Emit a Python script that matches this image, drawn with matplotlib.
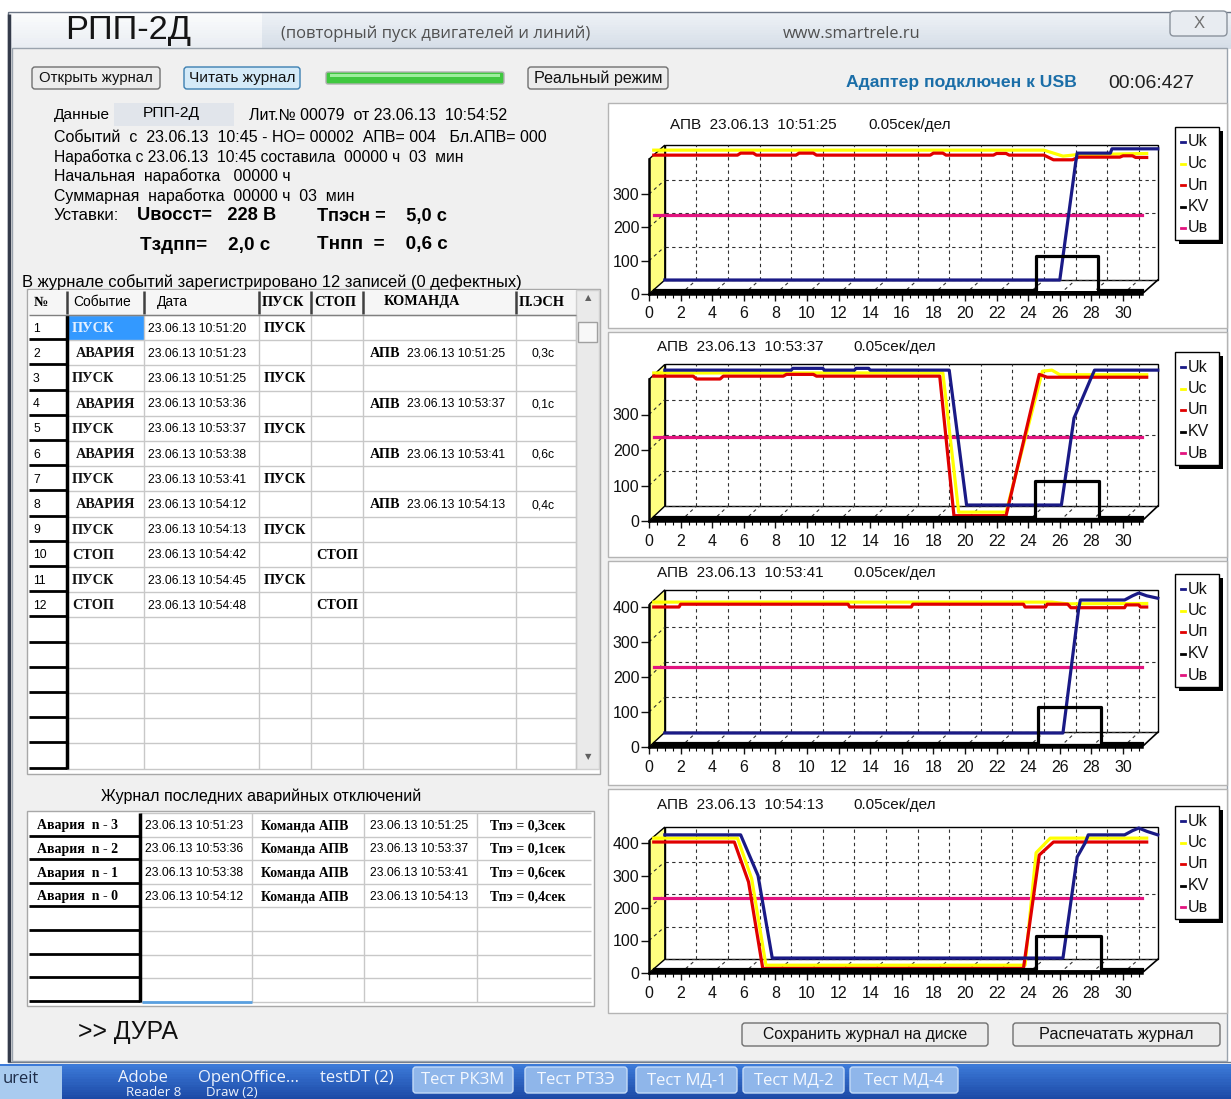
import numpy as np
import matplotlib
matplotlib.use("Agg")
import matplotlib.pyplot as plt
from matplotlib import font_manager as fm
from matplotlib.colors import to_rgb
from matplotlib.patches import Rectangle, Polygon, FancyBboxPatch
from matplotlib.ticker import FixedLocator

W, H = 1231, 1099

# ---------------------------------------------------------------------------
# data read from the screen
# ---------------------------------------------------------------------------
EVENTS = ["ПУСК", "АВАРИЯ", "ПУСК", "АВАРИЯ", "ПУСК", "АВАРИЯ",
          "ПУСК", "АВАРИЯ", "ПУСК", "СТОП", "ПУСК", "СТОП"]
EVENT_DATES = ["23.06.13 10:51:20", "23.06.13 10:51:23", "23.06.13 10:51:25",
               "23.06.13 10:53:36", "23.06.13 10:53:37", "23.06.13 10:53:38",
               "23.06.13 10:53:41", "23.06.13 10:54:12", "23.06.13 10:54:13",
               "23.06.13 10:54:42", "23.06.13 10:54:45", "23.06.13 10:54:48"]
APV_DATES = ["23.06.13 10:51:25", "23.06.13 10:53:37",
             "23.06.13 10:53:41", "23.06.13 10:54:13"]
PESN = ["0,3с", "0,1с", "0,6с", "0,4с"]
TPE = ["0,3сек", "0,1сек", "0,6сек", "0,4сек"]
ALARM_NAMES = ["Авария  n - 3", "Авария  n - 2", "Авария  n - 1", "Авария  n - 0"]

CHART_STAMPS = ["23.06.13  10:51:25", "23.06.13  10:53:37",
                "23.06.13  10:53:41", "23.06.13  10:54:13"]
SERIES_NAMES = ["Uk", "Uc", "Uп", "KV", "Uв"]

# chart 1
C1_UK_T = [1.0, 26.0, 27.0, 27.1, 29.2, 29.3, 32.2]
C1_UK_V = [42, 42, 393, 423, 423, 436, 436]
C1_UC_T = [0.3, 25.0, 26.2, 27.0, 31.5]
C1_UC_V = [432, 432, 414, 418, 422]
C1_UN_T = [0.3, 5.6, 5.8, 6.6, 6.8, 9.3, 9.5, 10.4, 10.6, 17.8, 18.0, 18.6, 18.8,
           21.8, 22.0, 22.6, 22.8, 25.0, 25.6, 26.8, 27.2, 29.8, 30.0, 30.6, 30.8, 31.5]
C1_UN_V = [417, 417, 423, 423, 417, 417, 423, 423, 417, 417, 423, 423, 417,
           417, 422, 422, 417, 417, 403, 403, 411, 411, 415, 415, 410, 410]
C1_KV_T = [0.3, 24.5, 24.5, 28.4, 28.4, 31.2]
C1_KV_V = [12, 12, 114, 114, 12, 12]
C1_UB_T = [0.3, 31.2]
C1_UB_V = [236, 236]

# chart 2
C2_UK_T = [1.0, 9.0, 9.1, 11.0, 11.1, 13.0, 13.1, 13.9, 14.0, 19.0, 20.1, 26.1,
           26.9, 28.0, 28.2, 32.2]
C2_UK_V = [425, 425, 430, 430, 425, 425, 430, 430, 425, 425, 45, 45,
           290, 405, 425, 425]
C2_UC_T = [0.3, 18.6, 19.6, 22.6, 24.9, 25.5, 26.0, 31.5]
C2_UC_V = [417, 417, 25, 25, 422, 425, 412, 412]
C2_UN_T = [0.3, 2.8, 3.0, 4.5, 4.7, 8.5, 8.7, 10.4, 10.6, 18.4, 19.3, 22.6,
           24.7, 25.2, 31.5]
C2_UN_V = [408, 408, 400, 400, 408, 408, 413, 413, 408, 408, 15, 15,
           413, 405, 405]
C2_KV_T = [0.3, 24.4, 24.4, 28.5, 28.5, 31.2]
C2_KV_V = [12, 12, 114, 114, 12, 12]
C2_UB_T = [0.3, 31.2]
C2_UB_V = [236, 236]

# chart 3
C3_UK_T = [1.0, 26.2, 27.2, 27.3, 30.1, 30.6, 31.0, 31.5, 32.2]
C3_UK_V = [40, 40, 397, 420, 420, 432, 440, 432, 425]
C3_UC_T = [0.3, 25.5, 26.5, 31.5]
C3_UC_V = [414, 414, 409, 410]
C3_UN_T = [0.3, 1.9, 2.0, 12.6, 12.7, 16.6, 16.7, 23.7, 23.8, 25.1, 25.2, 26.5,
           26.7, 30.1, 30.2, 31.0, 31.1, 31.5]
C3_UN_V = [400, 400, 408, 408, 400, 400, 408, 408, 400, 400, 408, 408,
           398, 398, 406, 406, 400, 400]
C3_KV_T = [0.3, 24.6, 24.6, 28.6, 28.6, 31.2]
C3_KV_V = [12, 12, 114, 114, 12, 12]
C3_UB_T = [0.3, 31.2]
C3_UB_V = [229, 229]

# chart 4
C4_UK_T = [1.0, 5.8, 6.9, 7.8, 26.2, 27.1, 27.6, 27.8, 30.1, 30.6, 31.0, 31.5, 32.2]
C4_UK_V = [425, 425, 300, 46, 46, 357, 400, 425, 425, 438, 446, 436, 425]
C4_UC_T = [0.3, 5.6, 6.5, 7.4, 23.8, 24.5, 25.4, 31.5]
C4_UC_V = [415, 415, 290, 24, 24, 370, 415, 415]
C4_UN_T = [0.3, 5.4, 6.3, 7.2, 23.7, 24.7, 25.6, 31.5]
C4_UN_V = [403, 403, 280, 14, 14, 363, 403, 403]
C4_KV_T = [0.3, 24.5, 24.5, 28.6, 28.6, 31.2]
C4_KV_V = [12, 12, 114, 114, 12, 12]
C4_UB_T = [0.3, 31.2]
C4_UB_V = [230, 230]

COLORS = {"Uk": "#1a1a86", "Uc": "#ffff00", "Uп": "#e00000",
          "KV": "#000000", "Uв": "#e2147f"}

# ---------------------------------------------------------------------------
# fonts
# ---------------------------------------------------------------------------
_names = {f.name for f in fm.fontManager.ttflist}


def pick(*cands):
    for c in cands:
        if c in _names:
            return c
    return "DejaVu Sans"


NARROW = pick("Liberation Sans Narrow", "Arial Narrow", "Liberation Sans")
SANS = pick("Liberation Sans", "Arial", "DejaVu Sans")
UI = pick("Open Sans", "Noto Sans", "DejaVu Sans")
SERIF = pick("Liberation Serif", "DejaVu Serif")
plt.rcParams["font.family"] = [SANS, "DejaVu Sans"]

fig = plt.figure(figsize=(W / 100, H / 100), dpi=100)
fig.patch.set_facecolor("white")
bg = fig.add_axes([0, 0, 1, 1])
bg.set_xlim(0, W)
bg.set_ylim(H, 0)
bg.axis("off")
R = fig.canvas.get_renderer()


def put(x, y, s, size=10, family=None, w=None, ha="left", va="center", **kw):
    t = bg.text(x, y, s, fontsize=size, family=[family or NARROW, "DejaVu Sans"],
                ha=ha, va=va, **kw)
    if w:
        width = t.get_window_extent(R).width
        if width > 0:
            t.set_fontsize(size * w / width)
    return t


def fit_size(s, w, family, weight="normal", base=10):
    t = bg.text(0, 0, s, fontsize=base, family=[family, "DejaVu Sans"], weight=weight)
    width = t.get_window_extent(R).width
    t.remove()
    return base * w / width


def rect(x0, y0, x1, y1, fc="none", ec="none", lw=1, z=1):
    bg.add_patch(Rectangle((x0, y0), x1 - x0, y1 - y0, fc=fc, ec=ec, lw=lw, zorder=z))


def vgrad(x0, x1, y0, y1, c0, c1, n=14):
    c0, c1 = np.array(to_rgb(c0)), np.array(to_rgb(c1))
    h = (y1 - y0) / n
    for i in range(n):
        f = i / (n - 1)
        rect(x0, y0 + i * h, x1, y0 + (i + 1) * h + 0.6, fc=c0 + (c1 - c0) * f)


def button(x0, x1, y0, y1, label, w, fc="#ececec", ec="#707070"):
    bg.add_patch(FancyBboxPatch((x0, y0), x1 - x0, y1 - y0,
                                boxstyle="round,pad=0,rounding_size=3",
                                fc=fc, ec=ec, lw=1, zorder=2))
    put((x0 + x1) / 2, (y0 + y1) / 2, label, size=11, w=w, ha="center",
        color="#111111", zorder=3)


def line(xs, ys, color="k", lw=1, **kw):
    bg.plot(xs, ys, color=color, lw=lw, solid_capstyle="butt", **kw)


# ---------------------------------------------------------------------------
# window frame
# ---------------------------------------------------------------------------
vgrad(9, W, 12, 48, "#eef2f6", "#d6dee8")
vgrad(9, 262, 12, 48, "#fbfcfd", "#e9edf2")
rect(8, 12, W + 2, 1062, ec="#6c7686", lw=1)
rect(12, 48, 1227, 1061, fc="#f0f0f0", ec="#9aa3ad", lw=1)
line([9, 9], [14, 1062], color="#343b4a", lw=2.5)

put(65, 31, "РПП-2Д", size=28, w=126, color="#151515")
put(281, 34, "(повторный пуск двигателей и линий)", size=11, family=UI, w=310,
    color="#505050")
put(783, 34, "www.smartrele.ru", size=11, family=UI, w=137, color="#505050")
bg.add_patch(FancyBboxPatch((1170, 11), 57, 25, boxstyle="round,pad=0,rounding_size=4",
                            fc="#e8ecf1", ec="#8a929c", lw=1))
put(1199, 23, "X", size=12, ha="center", color="#707070", family=SANS)

# top buttons row
button(32, 160, 67, 89, "Открыть журнал", 114)
button(184, 300, 67, 89, "Читать журнал", 106, fc="#d4eaf8", ec="#3c7fb1")
bg.add_patch(FancyBboxPatch((326, 72), 178, 12, boxstyle="round,pad=0,rounding_size=2",
                            fc="#3fc83f", ec="#b0b0b0", lw=1))
rect(330, 74, 500, 77, fc="#9cee9c")
button(528, 668, 67, 89, "Реальный режим", 128)
put(846, 83, "Адаптер подключен к USB", size=12, w=229, weight="bold", color="#1b6ea8")
put(1108, 83, "00:06:427", size=11, w=86, color="#202020")

# ---------------------------------------------------------------------------
# info block
# ---------------------------------------------------------------------------
rect(114, 103, 234, 126, fc="#e1e5eb")
put(54, 115, "Данные", w=56)
put(171, 113, "РПП-2Д", w=57, ha="center")
put(249, 116, "Лит.№ 00079  от 23.06.13  10:54:52", w=258)
put(54, 137, "Событий  с  23.06.13  10:45 - НО= 00002  АПВ= 004   Бл.АПВ= 000", w=492)
put(54, 157, "Наработка с 23.06.13  10:45 составила  00000 ч  03  мин", w=410)
put(54, 176, "Начальная  наработка   00000 ч", w=237)
put(54, 196, "Суммарная  наработка  00000 ч  03  мин", w=301)
put(54, 216, "Уставки:", w=66)
put(137, 216, "Uвосст=   228 В", w=139, weight="bold")
put(317, 216, "Тпэсн =    5,0 с", w=130, weight="bold")
put(140, 245, "Тздпп=    2,0 с", w=130, weight="bold")
put(317, 245, "Тнпп  =    0,6 с", w=130, weight="bold")
put(22, 282, "В журнале событий зарегистрировано 12 записей (0 дефектных)", w=502)

# ---------------------------------------------------------------------------
# event log table
# ---------------------------------------------------------------------------
T1_COLS = [29, 67, 144, 259, 311, 363, 516, 576]
T1_TOP, T1_HEAD, T1_ROW, T1_NROWS = 290, 25, 25.2, 18
t1_y0 = T1_TOP + T1_HEAD
t1_bot = t1_y0 + T1_ROW * T1_NROWS

rect(27, 289, 600, t1_bot + 5, fc="white", ec="#a8a8a8")
rect(29, T1_TOP, 576, t1_y0, fc="#f6f6f6")
rect(T1_COLS[1], t1_y0, T1_COLS[2], t1_y0 + T1_ROW, fc="#3399ff", z=1.5)
for x in T1_COLS[2:]:
    line([x, x], [t1_y0, t1_bot], color="#c8c8c8")
for i in range(T1_NROWS + 1):
    y = t1_y0 + i * T1_ROW
    line([T1_COLS[1], T1_COLS[-1]], [y, y], color="#c8c8c8")
for i in range(1, T1_NROWS + 1):
    y = t1_y0 + i * T1_ROW - 1
    line([29, T1_COLS[1]], [y, y], lw=2)
line([T1_COLS[1], T1_COLS[1]], [t1_y0, t1_bot], lw=2.5)
for x in T1_COLS[1:-1]:
    line([x, x], [T1_TOP + 1, t1_y0 - 1], color="#404040", lw=1.8)
line([29, 576], [t1_y0, t1_y0], color="#808080")

# scrollbar
rect(576, T1_TOP, 599, t1_bot, fc="#eaeaea", ec="#d0d0d0")
rect(578, 322, 597, 342, fc="#f8f8f8", ec="#a0a0a0")
put(588, 298, "▲", size=6, ha="center", family="DejaVu Sans", color="#606060")
put(588, 757, "▼", size=6, ha="center", family="DejaVu Sans", color="#606060")

sz_ev = fit_size("АВАРИЯ", 59, SERIF, "bold")
sz_date = fit_size("23.06.13 10:51:20", 98, NARROW)
sz_head = fit_size("Событие", 58, NARROW)
put(41, 302, "№", size=sz_ev, family=SERIF, weight="bold", ha="center")
put(73, 302, "Событие", size=sz_head)
put(157, 302, "Дата", size=sz_head)
put(262, 302, "ПУСК", size=sz_ev, family=SERIF, weight="bold")
put(314, 302, "СТОП", size=sz_ev, family=SERIF, weight="bold")
put(384, 302, "КОМАНДА", size=sz_ev, family=SERIF, weight="bold")
put(519, 302, "П.ЭСН", size=sz_ev, family=SERIF, weight="bold")

k_alarm = 0
for i, ev in enumerate(EVENTS):
    yc = t1_y0 + T1_ROW * (i + 0.5) + 1
    put(33, yc, str(i + 1), size=sz_date)
    put(76 if ev == "АВАРИЯ" else 72, yc, ev, size=sz_ev, family=SERIF,
        weight="bold", color="#e4f0ff" if i == 0 else "#111111", zorder=3)
    put(148, yc, EVENT_DATES[i], size=sz_date)
    if ev == "ПУСК":
        put(264, yc, "ПУСК", size=sz_ev, family=SERIF, weight="bold")
    if ev == "СТОП":
        put(316, yc, "СТОП", size=sz_ev, family=SERIF, weight="bold")
    if ev == "АВАРИЯ":
        put(370, yc, "АПВ", size=sz_ev, family=SERIF, weight="bold")
        put(407, yc, APV_DATES[k_alarm], size=sz_date)
        put(531, yc, PESN[k_alarm], size=sz_date)
        k_alarm += 1

# ---------------------------------------------------------------------------
# last alarms table
# ---------------------------------------------------------------------------
put(101, 796, "Журнал последних аварийных отключений", w=321)
T2_COLS = [28, 140, 252, 364, 477, 591]
T2_TOP, T2_ROW, T2_NROWS = 813, 23.6, 8
t2_bot = T2_TOP + T2_ROW * T2_NROWS
rect(27, 811, 594, t2_bot + 4, fc="white", ec="#a8a8a8")
for x in T2_COLS[2:-1]:
    line([x, x], [T2_TOP, t2_bot], color="#c8c8c8")
for i in range(T2_NROWS + 1):
    y = T2_TOP + i * T2_ROW
    line([T2_COLS[1], T2_COLS[-1]], [y, y], color="#c8c8c8")
for i in range(1, T2_NROWS + 1):
    y = T2_TOP + i * T2_ROW - 1
    line([29, T2_COLS[1]], [y, y], lw=2)
line([T2_COLS[1], T2_COLS[1]], [T2_TOP, t2_bot], lw=2.5)
line([T2_COLS[1] + 2, T2_COLS[2]], [t2_bot, t2_bot], color="#5aa0e0", lw=2)

alarm_dates = [d for d, e in zip(EVENT_DATES, EVENTS) if e == "АВАРИЯ"]
sz_al = fit_size("Авария  n - 3", 81, SERIF, "bold")
for i, name in enumerate(ALARM_NAMES):
    yc = T2_TOP + T2_ROW * (i + 0.5) + 1
    put(37, yc, name, size=sz_al, family=SERIF, weight="bold")
    put(145, yc, alarm_dates[i], size=sz_date)
    put(261, yc, "Команда АПВ", size=sz_al, family=SERIF, weight="bold")
    put(370, yc, APV_DATES[i], size=sz_date)
    put(490, yc, "Тпэ = " + TPE[i], size=sz_al, family=SERIF, weight="bold")

put(78, 1032, ">> ДУРА", size=18, family=SANS, w=100, color="#111111")

# bottom buttons
button(742, 988, 1023, 1046, "Сохранить журнал на диске", 204)
button(1013, 1220, 1023, 1046, "Распечатать журнал", 154)

# ---------------------------------------------------------------------------
# charts
# ---------------------------------------------------------------------------
X0, PX, XMAX, YMAX = 649, 15.8, 33.5, 460
DX, DY, XEND = 1.0, 42, 31.2
DASH = dict(color="#303030", lw=0.8, ls=(0, (3, 3)))

CHARTS = [
    # panel top/bottom, y0 px, px per unit, back-wall top, y ticks, title x, title y, legend top
    dict(p=(103, 328), y0=294, k=0.333, top=447, yt=[0, 100, 200, 300], tx=(670, 868),
         ty=125, lt=127,
         s=[(C1_UB_T, C1_UB_V, "Uв"), (C1_UC_T, C1_UC_V, "Uc"), (C1_UN_T, C1_UN_V, "Uп"),
            (C1_UK_T, C1_UK_V, "Uk"), (C1_KV_T, C1_KV_V, "KV")]),
    dict(p=(332, 557), y0=521, k=0.355, top=441, yt=[0, 100, 200, 300], tx=(657, 853),
         ty=347, lt=352,
         s=[(C2_UB_T, C2_UB_V, "Uв"), (C2_UC_T, C2_UC_V, "Uc"), (C2_UN_T, C2_UN_V, "Uп"),
            (C2_UK_T, C2_UK_V, "Uk"), (C2_KV_T, C2_KV_V, "KV")]),
    dict(p=(561, 785), y0=747, k=0.35, top=449, yt=[0, 100, 200, 300, 400], tx=(657, 853),
         ty=573, lt=574,
         s=[(C3_UB_T, C3_UB_V, "Uв"), (C3_UC_T, C3_UC_V, "Uc"), (C3_UN_T, C3_UN_V, "Uп"),
            (C3_UK_T, C3_UK_V, "Uk"), (C3_KV_T, C3_KV_V, "KV")]),
    dict(p=(789, 1013), y0=973, k=0.325, top=449, yt=[0, 100, 200, 300, 400], tx=(657, 853),
         ty=805, lt=806,
         s=[(C4_UB_T, C4_UB_V, "Uв"), (C4_UC_T, C4_UC_V, "Uc"), (C4_UN_T, C4_UN_V, "Uп"),
            (C4_UK_T, C4_UK_V, "Uk"), (C4_KV_T, C4_KV_V, "KV")]),
]

for ci, c in enumerate(CHARTS):
    rect(608, c["p"][0], 1227, c["p"][1], fc="white", ec="#b4b4b4")
    put(c["tx"][0], c["ty"], "АПВ  " + CHART_STAMPS[ci], size=11, family=SANS,
        color="#111111")
    put(c["tx"][1], c["ty"], "0.05сек/дел", size=11, family=SANS, color="#111111")

    # legend
    lx, ly = 1175, c["lt"]
    rect(lx + 4, ly + 4, lx + 48, ly + 117, fc="black", z=3)
    rect(lx, ly, lx + 44, ly + 113, fc="white", ec="black", z=4)
    for j, name in enumerate(SERIES_NAMES):
        yy = ly + 15 + j * 21.5
        bg.plot([lx + 6, lx + 10], [yy, yy], color=COLORS[name], lw=2, zorder=5)
        put(lx + 13, yy, name, size=11.5, family=SANS, zorder=5, color="#111111")

    ax = fig.add_axes([X0 / W, (H - c["y0"]) / H, XMAX * PX / W, YMAX * c["k"] / H])
    ax.set_xlim(0, XMAX)
    ax.set_ylim(0, YMAX)
    ax.patch.set_alpha(0)
    top = c["top"]
    wall = top - DY

    ax.add_patch(Rectangle((DX, DY), XEND, top - DY, fc="none", ec="k", lw=1, zorder=1))
    for gx in range(2, 31, 2):
        ax.plot([gx + DX, gx + DX], [DY, top], zorder=1, **DASH)
        ax.plot([gx, gx + DX], [0, DY], zorder=1, **DASH)
    for gy in (0, 100, 200, 300):
        ax.plot([DX, XEND + DX], [gy + DY, gy + DY], zorder=1, **DASH)
    ax.add_patch(Polygon([(0, 0), (0, wall), (DX, top), (DX, DY)], closed=True,
                         fc="#ffff80", ec="k", lw=1, zorder=2))
    for gy in (100, 200, 300):
        ax.plot([0, DX], [gy, gy + DY], zorder=2.2, **DASH)
    ax.plot([XEND, XEND + DX], [0, DY], color="k", lw=1.2, zorder=2)

    for t, v, name in c["s"]:
        ax.plot(t, v, color=COLORS[name], lw=2.3, clip_on=False, zorder=3,
                solid_joinstyle="round")
    ax.add_patch(Polygon([(0, 0), (XEND, 0), (XEND + 0.25, 9), (0.25, 9)], closed=True,
                         fc="k", ec="none", zorder=3.5))

    for side in ("top", "right"):
        ax.spines[side].set_visible(False)
    ax.spines["left"].set_bounds(0, wall)
    ax.spines["bottom"].set_bounds(0, XEND)
    for side in ("left", "bottom"):
        ax.spines[side].set_linewidth(1.8)
        ax.spines[side].set_zorder(5)
    ax.set_xticks(range(0, 31, 2))
    ax.xaxis.set_minor_locator(FixedLocator(np.arange(0, 31.01, 0.5)))
    ax.set_yticks(c["yt"])
    ax.tick_params(axis="both", which="major", direction="out", length=5, width=1,
                   labelsize=11.5, colors="#111111")
    ax.tick_params(axis="x", which="minor", direction="out", length=3, width=0.8)
    ax.tick_params(axis="x", pad=4)
    ax.tick_params(axis="y", pad=1, length=6)

# ---------------------------------------------------------------------------
# taskbar
# ---------------------------------------------------------------------------
vgrad(0, W, 1064, H + 1, "#3c7ad8", "#1c49a6")
rect(0, 1066, 62, H, fc="#a9cbef")
put(3, 1079, "ureit", size=12, family=UI, color="#1d2c48")
TASK_ITEMS = [(118, "Adobe", "Reader 8"), (198, "OpenOffice...", "Draw (2)"),
              (320, "testDT (2)", None)]
for x, top_txt, low_txt in TASK_ITEMS:
    put(x, 1078, top_txt, size=12, family=UI, color="#eef3fc")
    if low_txt:
        put(x + 8, 1092, low_txt, size=9.5, family=UI, color="#eef3fc")
TASK_BUTTONS = [(413, 513, "Тест РКЗМ"), (525, 627, "Тест РТЗЭ"), (636, 737, "Тест МД-1"),
                (743, 844, "Тест МД-2"), (850, 958, "Тест МД-4")]
for x0, x1, label in TASK_BUTTONS:
    bg.add_patch(FancyBboxPatch((x0, 1067), x1 - x0, 26, boxstyle="round,pad=0,rounding_size=3",
                                fc="#8fb6ea", ec="#c4dbf7", lw=1))
    put((x0 + x1) / 2, 1080, label, size=12, family=UI, ha="center", color="#f4f8ff")

fig.savefig("out.png", dpi=100)
